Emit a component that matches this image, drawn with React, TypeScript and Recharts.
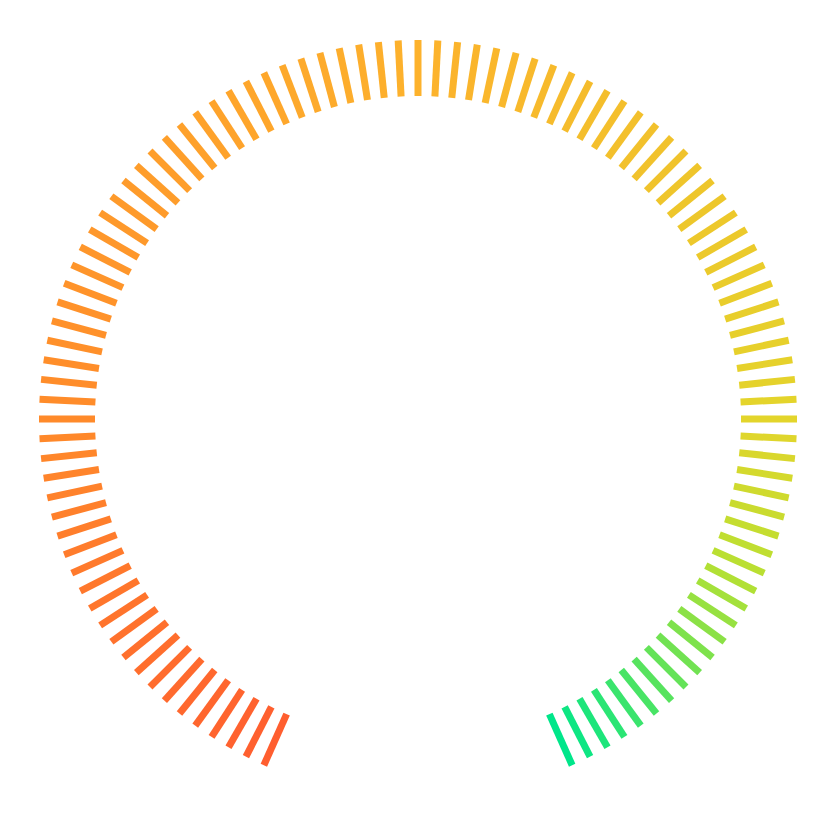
import React from 'react';
import { PieChart, Pie, Cell } from 'recharts';

// 105 equal ticks, 3 degrees apart, from 246deg round to -66deg
const tickValues: number[] = new Array(105).fill(1);

// colour stops along the gauge (position 0..1 -> colour)
const stopPositions = [0, 0.21, 0.5, 0.79, 0.87, 0.94, 1];
const stopColors = ['#ff5e2f', '#ff8a2a', '#fdb22c', '#e3d52b', '#b8e032', '#5ae35c', '#00e68a'];

const START_ANGLE = 247.5;
const END_ANGLE = -67.5;
const RADIAN = Math.PI / 180;

function hexToRgb(hex: string) {
  const n = parseInt(hex.slice(1), 16);
  return [(n >> 16) & 255, (n >> 8) & 255, n & 255];
}

function colorAt(t: number) {
  let i = 0;
  while (i < stopPositions.length - 2 && t > stopPositions[i + 1]) i++;
  const a = hexToRgb(stopColors[i]);
  const b = hexToRgb(stopColors[i + 1]);
  const f = (t - stopPositions[i]) / (stopPositions[i + 1] - stopPositions[i]);
  const c = a.map((v, k) => Math.round(v + (b[k] - v) * f));
  return `rgb(${c[0]},${c[1]},${c[2]})`;
}

// draw each slice as a straight tick along its mid angle
const TickShape = (props: any) => {
  const { cx, cy, innerRadius, outerRadius, midAngle, fill } = props;
  const cos = Math.cos(-midAngle * RADIAN);
  const sin = Math.sin(-midAngle * RADIAN);
  return (
    <line
      x1={cx + innerRadius * cos}
      y1={cy + innerRadius * sin}
      x2={cx + outerRadius * cos}
      y2={cy + outerRadius * sin}
      stroke={fill}
      strokeWidth={7}
      strokeLinecap="butt"
    />
  );
};

export default function App() {
  const data = tickValues.map((v, i) => ({ name: `t${i}`, value: v }));
  return (
    <div style={{ width: 820, height: 822, background: '#fff' }}>
      <PieChart width={820} height={822} margin={{ top: 0, right: 0, bottom: 0, left: 0 }}>
        <Pie
          data={data}
          dataKey="value"
          cx={410}
          cy={411}
          innerRadius={323}
          outerRadius={379}
          startAngle={START_ANGLE}
          endAngle={END_ANGLE}
          paddingAngle={0}
          stroke="none"
          shape={TickShape}
          activeShape={TickShape}
          inactiveShape={TickShape}
          isAnimationActive={false}
        >
          {data.map((d, i) => (
            <Cell key={d.name} fill={colorAt(i / (data.length - 1))} />
          ))}
        </Pie>
      </PieChart>
    </div>
  );
}
